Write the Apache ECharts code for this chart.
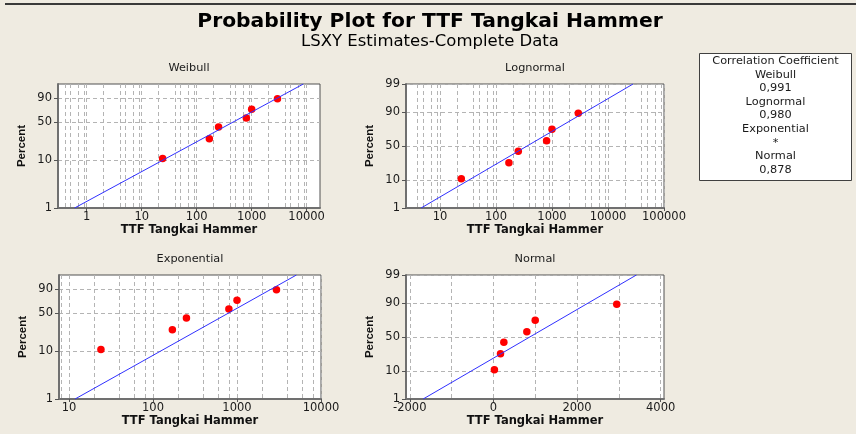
<!DOCTYPE html>
<html>
<head>
<meta charset="utf-8">
<script src="https://cdn.jsdelivr.net/npm/echarts@6/dist/echarts.min.js"></script>
<style>
html,body{margin:0;padding:0;background:#EFEBE1;}
#chart{width:856px;height:434px;}
</style>
</head>
<body>
<div id="chart"></div>
<script>
// ---- data ----
const ttf = [24, 170, 250, 800, 1000, 2950];
const percent = [10.9, 26.6, 42.2, 57.8, 73.4, 89.1];
const fitPercent = [1, 99];
const weibullFitX = [0.6, 8700];
const lognormalFitX = [4.6, 28000];
const exponentialFitX = [11.8, 5100];
const normalFitX = [-1680, 3420];

const weibullTicks = [1, 10, 100, 1000, 10000];
const lognormalTicks = [10, 100, 1000, 10000, 100000];
const exponentialTicks = [10, 100, 1000, 10000];
const normalTicks = [-2000, 0, 2000, 4000];
const normalGridX = [-2000, -1000, 0, 1000, 2000, 3000, 4000];
const weibullPctTicks = [1, 10, 50, 90];
const normalPctTicks = [1, 10, 50, 90, 99];
const legendLines = ['Correlation Coefficient', 'Weibull', '0,991', 'Lognormal', '0,980', 'Exponential', '*', 'Normal', '0,878'];
const plotTitles = ['Weibull', 'Lognormal', 'Exponential', 'Normal'];

// ---- axis transforms ----
function probit(p) {
  const a = [-3.969683028665376e+01, 2.209460984245205e+02, -2.759285104469687e+02, 1.383577518672690e+02, -3.066479806614716e+01, 2.506628277459239e+00];
  const b = [-5.447609879822406e+01, 1.615858368580409e+02, -1.556989798598866e+02, 6.680131188771972e+01, -1.328068155288572e+01];
  const c = [-7.784894002430293e-03, -3.223964580411365e-01, -2.400758277161838e+00, -2.549732539343734e+00, 4.374664141464968e+00, 2.938163982698783e+00];
  const d = [7.784695709041462e-03, 3.224671290700398e-01, 2.445134137142996e+00, 3.754408661907416e+00];
  const pl = 0.02425, ph = 1 - pl;
  let q, r;
  if (p < pl) { q = Math.sqrt(-2 * Math.log(p)); return (((((c[0]*q+c[1])*q+c[2])*q+c[3])*q+c[4])*q+c[5]) / ((((d[0]*q+d[1])*q+d[2])*q+d[3])*q+1); }
  if (p <= ph) { q = p - 0.5; r = q*q; return (((((a[0]*r+a[1])*r+a[2])*r+a[3])*r+a[4])*r+a[5])*q / (((((b[0]*r+b[1])*r+b[2])*r+b[3])*r+b[4])*r+1); }
  q = Math.sqrt(-2 * Math.log(1 - p)); return -(((((c[0]*q+c[1])*q+c[2])*q+c[3])*q+c[4])*q+c[5]) / ((((d[0]*q+d[1])*q+d[2])*q+d[3])*q+1);
}
const wb = p => Math.log(-Math.log(1 - p / 100));
const nz = p => probit(p / 100);
const lg = v => Math.log10(v);
const ident = v => v;

function minorLog(mults, lo, hi) {
  const out = [];
  for (let e = -2; e <= 6; e++) {
    mults.forEach(m => { const v = m * Math.pow(10, e); if (v > lo && v < hi) out.push(lg(v)); });
  }
  return out;
}

const FONT = 'DejaVu Sans';
const gridLine = { show: true, lineStyle: { color: '#b4b4b4', type: [4, 3], width: 1 } };

const panels = [
  { grid: { left: 58, top: 84, width: 262, height: 124 }, xr: [0.3, 17500], xf: lg, ticks: weibullTicks,
    minor: minorLog([2, 4, 5, 7, 9], 0.3, 17500), yf: wb, pct: weibullPctTicks, fit: weibullFitX },
  { grid: { left: 406, top: 84, width: 258, height: 124 }, xr: [2.47, 100000], xf: lg, ticks: lognormalTicks,
    minor: minorLog([2, 4, 5, 7, 9], 2.47, 100000), yf: nz, pct: normalPctTicks, fit: lognormalFitX },
  { grid: { left: 59, top: 275, width: 262, height: 124 }, xr: [7.6, 10000], xf: lg, ticks: exponentialTicks,
    minor: minorLog([2, 4, 6, 8], 7.6, 10000), yf: wb, pct: weibullPctTicks, fit: exponentialFitX },
  { grid: { left: 406, top: 275, width: 258, height: 124 }, xr: [-2090, 4080], xf: ident, ticks: normalTicks,
    minor: normalGridX, yf: nz, pct: normalPctTicks, fit: normalFitX }
];

const grids = [], xAxes = [], yAxes = [], series = [];
panels.forEach((P, i) => {
  grids.push(Object.assign({ show: true, backgroundColor: '#ffffff', borderColor: '#505050', borderWidth: 1 }, P.grid));
  const tickPos = P.ticks.map(P.xf);
  xAxes.push({
    type: 'value', gridIndex: i, position: 'bottom', min: P.xf(P.xr[0]), max: P.xf(P.xr[1]),
    axisLine: { show: true, onZero: false, lineStyle: { color: '#707070', width: 2 } },
    axisTick: { show: true, length: 3, customValues: tickPos, lineStyle: { color: '#555' } },
    axisLabel: { show: true, customValues: tickPos, margin: 3, color: '#1a1a1a', fontFamily: FONT, fontSize: 11.5,
      formatter: v => { let best = P.ticks[0]; P.ticks.forEach(t => { if (Math.abs(P.xf(t) - v) < Math.abs(P.xf(best) - v)) best = t; }); return String(best); } },
    splitLine: gridLine,
    name: 'TTF Tangkai Hammer', nameLocation: 'middle', nameGap: 15,
    nameTextStyle: { fontFamily: FONT, fontWeight: 'bold', fontSize: 11.5, color: '#111' }
  });
  xAxes.push({
    type: 'value', gridIndex: i, position: 'top', min: P.xf(P.xr[0]), max: P.xf(P.xr[1]),
    axisLine: { show: false, onZero: false }, axisLabel: { show: false },
    axisTick: { show: false, customValues: P.minor },
    splitLine: gridLine
  });
  const pctPos = P.pct.map(P.yf);
  yAxes.push({
    type: 'value', gridIndex: i, position: 'left', min: P.yf(fitPercent[0]), max: P.yf(fitPercent[1]),
    axisLine: { show: true, onZero: false, lineStyle: { color: '#707070', width: 2 } },
    axisTick: { show: true, length: 4, customValues: pctPos, lineStyle: { color: '#555' } },
    axisLabel: { show: true, customValues: pctPos, margin: 6, color: '#1a1a1a', fontFamily: FONT, fontSize: 11.5,
      formatter: v => { let best = P.pct[0]; P.pct.forEach(t => { if (Math.abs(P.yf(t) - v) < Math.abs(P.yf(best) - v)) best = t; }); return String(best); } },
    splitLine: gridLine,
    name: 'Percent', nameLocation: 'middle', nameRotate: 90, nameGap: 30,
    nameTextStyle: { fontFamily: 'Liberation Sans', fontWeight: 'bold', fontSize: 11.5, color: '#111' }
  });
  series.push({
    type: 'line', xAxisIndex: 2 * i, yAxisIndex: i, symbol: 'none', silent: true, animation: false,
    lineStyle: { color: '#3030ff', width: 1 },
    data: P.fit.map((x, k) => [P.xf(x), P.yf(fitPercent[k])])
  });
  series.push({
    type: 'scatter', xAxisIndex: 2 * i, yAxisIndex: i, symbol: 'circle', symbolSize: 7.5, animation: false,
    itemStyle: { color: '#ff0000', opacity: 1 },
    data: ttf.map((t, k) => [P.xf(t), P.yf(percent[k])])
  });
});

const titlePos = [[189, 68], [535, 68], [190, 259], [535, 259]];
const graphics = [
  { type: 'line', shape: { x1: 5, y1: 4, x2: 856, y2: 4 }, style: { stroke: '#3a3a3a', lineWidth: 2 } },
  { type: 'text', x: 430, y: 22, style: { text: 'Probability Plot for TTF Tangkai Hammer', font: 'bold 20.3px "DejaVu Sans"', fill: '#000', align: 'center', verticalAlign: 'middle' } },
  { type: 'text', x: 430, y: 42, style: { text: 'LSXY Estimates-Complete Data', font: '16.5px "DejaVu Sans"', fill: '#000', align: 'center', verticalAlign: 'middle' } },
  { type: 'rect', shape: { x: 699.5, y: 53.5, width: 152, height: 127 }, style: { fill: '#ffffff', stroke: '#404040', lineWidth: 1 } },
  { type: 'text', x: 775.5, y: 115.5, style: { text: legendLines.join('\n'), font: '11.3px "DejaVu Sans"', lineHeight: 13.6, fill: '#1a1a1a', align: 'center', verticalAlign: 'middle' } }
];
plotTitles.forEach((t, i) => {
  graphics.push({ type: 'text', x: titlePos[i][0], y: titlePos[i][1], style: { text: t, font: '11.3px "DejaVu Sans"', fill: '#1a1a1a', align: 'center', verticalAlign: 'middle' } });
});

const chart = echarts.init(document.getElementById('chart'), null, { renderer: 'canvas' });
chart.setOption({
  backgroundColor: '#EFEBE1',
  animation: false,
  grid: grids,
  xAxis: xAxes,
  yAxis: yAxes,
  series: series,
  graphic: graphics
});
</script>
</body>
</html>
